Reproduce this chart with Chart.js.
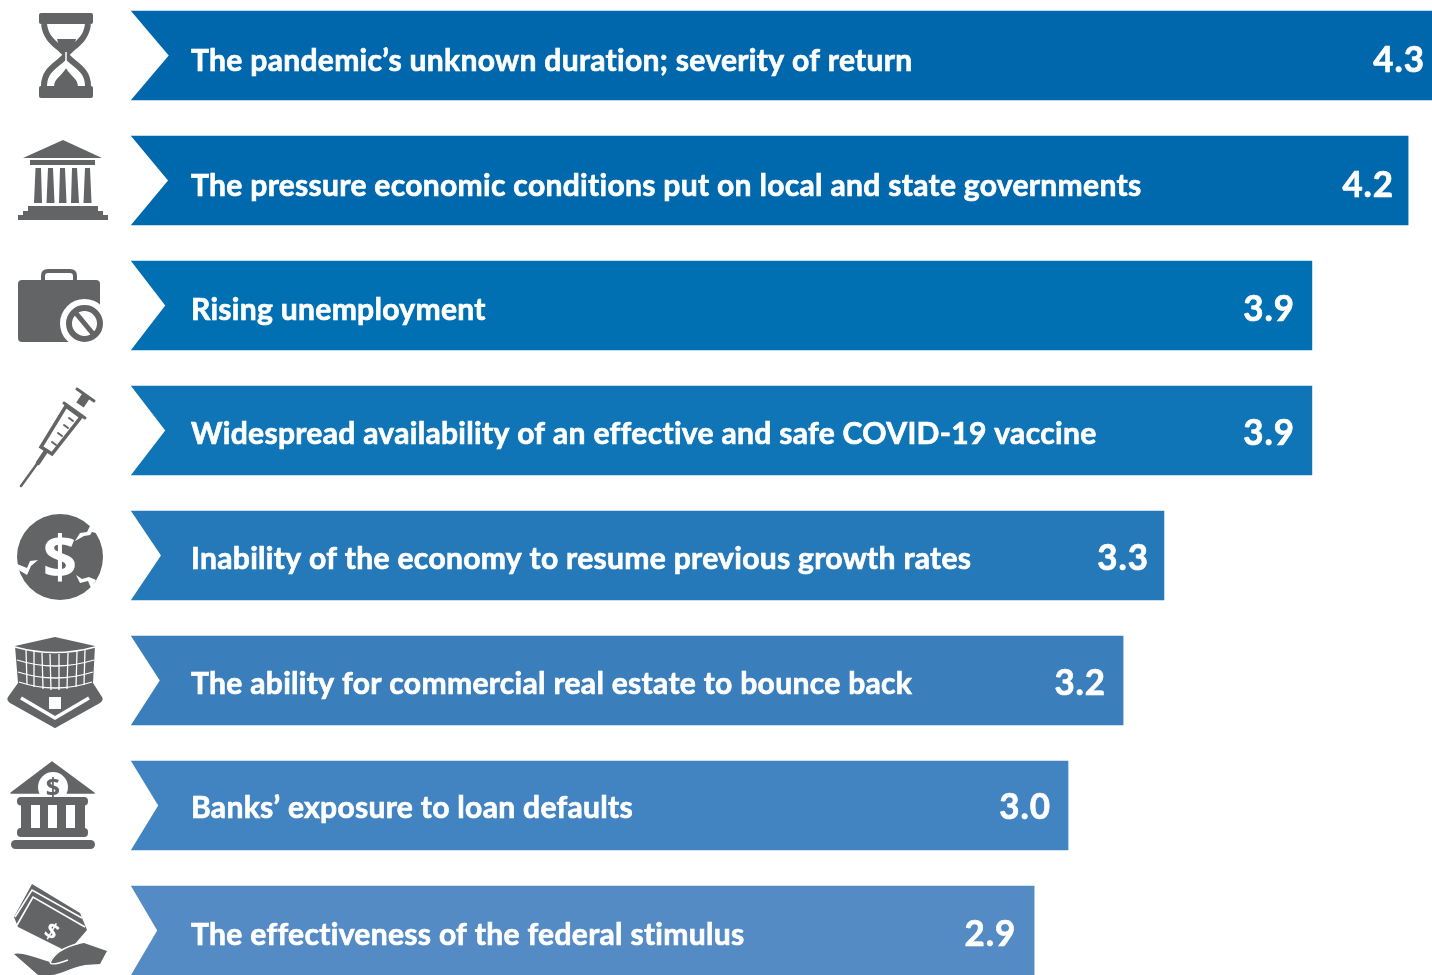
<!DOCTYPE html>
<html>
<head>
<meta charset="utf-8">
<title>Chart</title>
<script src="https://cdn.jsdelivr.net/npm/chart.js@4"></script>
<style>
  html, body { margin: 0; padding: 0; background: #fff; overflow: hidden; width: 1432px; height: 975px; }
  #wrap { position: absolute; left: 0; top: -7px; width: 1432px; height: 1000px; }
  #icons { position: absolute; left: 0; top: 0; width: 1432px; height: 975px; }
</style>
</head>
<body>
<div id="wrap"><canvas id="myChart" width="1432" height="1000"></canvas></div>

<!-- left hand icons, all in page pixels -->
<svg id="icons" viewBox="0 0 1432 975" xmlns="http://www.w3.org/2000/svg">
  <g fill="#636466" stroke="none">
    <!-- hourglass -->
    <rect x="39" y="13" width="54" height="11" rx="2"/>
    <rect x="39" y="86" width="54" height="12" rx="2"/>
    <path d="M44,24 C46,42 60,46 66,55 C72,64 88,68 88,86 M88,24 C86,42 72,46 66,55 C60,64 44,68 44,86" fill="none" stroke="#636466" stroke-width="6"/>
    <path d="M57,39 L76,39 L74,46 L67,53 L66,53 L59,46 Z"/>
    <path d="M66,68 C62,76 54,78 54,87 L78,87 C78,78 70,76 66,68 Z"/>
    <path d="M66,52 L66,69" stroke="#fff" stroke-width="1.5"/>

    <!-- government building -->
    <path d="M63,140 L102,158 L23,158 Z"/>
    <rect x="30" y="160" width="65" height="5"/>
    <path d="M35.5,168 L41,168 L42,203 L34,203 Z"/>
    <path d="M48,168 L53,168 L54.500,203 L46.500,203 Z"/>
    <path d="M60,168 L65,168 L66.500,203 L59,203 Z"/>
    <path d="M72,168 L77,168 L79,203 L71,203 Z"/>
    <path d="M85,168 L90,168 L91.500,203 L83.500,203 Z"/>
    <rect x="28" y="206" width="70" height="5"/>
    <rect x="23" y="211" width="80" height="4"/>
    <rect x="18" y="215" width="90" height="5"/>

    <!-- briefcase -->
    <rect x="18" y="280" width="82" height="62" rx="4"/>
    <path d="M43,281 L43,276 Q43,271 48,271 L70,271 Q75,271 75,276 L75,281" fill="none" stroke="#636466" stroke-width="4"/>
    <circle cx="84.500" cy="323.500" r="24.500" fill="#fff"/>
    <circle cx="84.500" cy="323.500" r="15.500" fill="#fff" stroke="#636466" stroke-width="6"/>
    <path d="M75,312 L94,335" stroke="#636466" stroke-width="5"/>

    <!-- syringe -->
    <g fill="none" stroke="#636466" stroke-linecap="round">
      <path d="M21,486 L42,457" stroke-width="2.500"/>
      <path d="M38,463 L46,451" stroke-width="4.500"/>
      <path d="M41,447 L52,454 L81,417 L66,406 Z" stroke-width="3.500"/>
      <path d="M64,403 L85,418" stroke-width="3"/>
      <path d="M80,405 L86,396" stroke-width="9" stroke-linecap="butt"/>
      <path d="M77,389 L94,401" stroke-width="3"/>
      <path d="M52,442 L56,445 M58,433 L62,436 M64,425 L68,428 M69,418 L73,421" stroke-width="2"/>
    </g>

    <!-- cracked dollar -->
    <circle cx="60" cy="557" r="43"/>
    <path d="M75,541 L80,533 L87,532 L90,526 L95,524 L104,535 L92,532 L90,535 L84,536 Z" fill="#fff"/>
    <path d="M17,569 L27,575 L31,566 L38,560 L30,561 L27,568 L17,564 Z" fill="#fff"/>
    <path d="M76,575 L80,583 L88,581 L91,588 L96,580 L89,577 L82,579 Z" fill="#fff"/>
    <text x="60" y="578" text-anchor="middle" font-family="Noto Sans" font-weight="700" font-size="60" fill="#fff">$</text>

    <!-- office block -->
    <path d="M15,646 L55,637 L95,646 L93,683 L102,697 Q104,700 100,703 L57,727 Q55,729 53,727 L10,703 Q6,700 8,697 L18,683 Z"/>
    <g fill="none" stroke="#fff" stroke-width="1.300">
      <path d="M15,647 Q55,658 95,647"/>
      <path d="M17,660 Q55,672 94,660"/>
      <path d="M18,672 Q55,684 93,672"/>
      <path d="M19,682 Q55,694 92,682"/>
      <path d="M26,649 L27,684 M34,651 L34,687 M42,653 L43,689 M50,654 L51,690 M59,654 L59,690 M68,653 L67,689 M77,651 L76,687 M85,649 L84,685"/>
    </g>
    <path d="M21,698 L55,718 L89,698" fill="none" stroke="#fff" stroke-width="3.500"/>
    <rect x="49" y="697" width="12" height="12" fill="#fff"/>

    <!-- bank -->
    <path d="M52,762 L94,793 L11,793 Z" stroke="#636466" stroke-width="1.500" stroke-linejoin="round"/>
    <circle cx="53" cy="787" r="15" fill="#fff"/>
    <text x="53" y="796" text-anchor="middle" font-family="Noto Sans" font-weight="700" font-size="25" fill="#636466">$</text>
    <rect x="17" y="797" width="71" height="8.500" rx="4"/>
    <rect x="21" y="805" width="64" height="24"/>
    <rect x="31" y="805" width="9" height="24" fill="#fff"/>
    <rect x="48" y="805" width="9" height="24" fill="#fff"/>
    <rect x="66" y="805" width="9" height="24" fill="#fff"/>
    <rect x="17" y="828" width="71" height="9" rx="4"/>
    <rect x="11" y="840" width="84" height="9" rx="4.500"/>

    <!-- money in hand -->
    <path d="M32,884 L80,913 L87,930 L68,952 L18,927 L14,917 Z"/>
    <path d="M15,917 L32,890 L82,918 M17,925 L33,897 L85,927" fill="none" stroke="#fff" stroke-width="1.600"/>
    <text transform="translate(52,931) rotate(30)" text-anchor="middle" font-family="Noto Sans" font-weight="700" font-size="22" fill="#fff" y="8">$</text>
    <path d="M14,954 C18,952 30,955 50,962 C55,950 70,945 84,943 L107,951 L100,964 L85,965 C70,968 58,975 52,975 L38,975 Z"/>
    <path d="M50,963 C52,965 60,963 68,960 M50,963 C54,952 68,946 80,943" fill="none" stroke="#fff" stroke-width="1.500"/>
  </g>
</svg>

<script>
var categories = [
  "The pandemic’s unknown duration; severity of return",
  "The pressure economic conditions put on local and state governments",
  "Rising unemployment",
  "Widespread availability of an effective and safe COVID-19 vaccine",
  "Inability of the economy to resume previous growth rates",
  "The ability for commercial real estate to bounce back",
  "Banks’ exposure to loan defaults",
  "The effectiveness of the federal stimulus"
];
// printed numbers
var valueLabels = ["4.3", "4.2", "3.9", "3.9", "3.3", "3.2", "3.0", "2.9"];
// bar lengths as drawn, they do not quite follow the rounded numbers
var barLengths = [4.3, 4.221, 3.903, 3.903, 3.414, 3.279, 3.097, 2.985];
var barColors = ["#0067ac", "#0068ad", "#0070b2", "#0f75b7", "#2679b9", "#3a7ebc", "#4284c1", "#548bc4"];
var labelInsets = [7, 14, 17, 17, 15, 17, 17, 18];
var textOffsets = [5, 5, 4, 3, 3, 3, 2, 4];

var NOTCH_RATIO = 0.029;
var TEXT_X = 191;

function drawText(ctx, str, x, y, size, stretch, spacing, align) {
  ctx.save();
  ctx.font = "700 " + size + "px Lato";
  ctx.letterSpacing = spacing + "px";
  ctx.textAlign = "left";
  ctx.textBaseline = "middle";
  ctx.fillStyle = "#fff";
  ctx.strokeStyle = "#fff";
  ctx.lineWidth = 0.7;
  var w = ctx.measureText(str).width * stretch;
  ctx.translate(align === "right" ? x - w : x, y);
  ctx.scale(stretch, 1);
  ctx.fillText(str, 0, 0);
  ctx.strokeText(str, 0, 0);
  ctx.restore();
}

var barDecor = {
  id: "barDecor",
  afterDatasetsDraw: function (chart) {
    var ctx = chart.ctx;
    var bars = chart.getDatasetMeta(0).data;
    bars.forEach(function (bar, i) {
      var top = bar.y - bar.height / 2;
      var bottom = bar.y + bar.height / 2;
      var depth = (bar.x - bar.base) * NOTCH_RATIO;
      // arrow shaped cut on the left end
      ctx.save();
      ctx.fillStyle = "#fff";
      ctx.beginPath();
      ctx.moveTo(bar.base - 1, top - 1);
      ctx.lineTo(bar.base, top);
      ctx.lineTo(bar.base + depth, bar.y);
      ctx.lineTo(bar.base, bottom);
      ctx.lineTo(bar.base - 1, bottom + 1);
      ctx.closePath();
      ctx.fill();
      ctx.restore();

      drawText(ctx, categories[i], TEXT_X, bar.y + textOffsets[i], 31, 0.97, 0.3, "left");
      drawText(ctx, valueLabels[i], bar.x - labelInsets[i], bar.y + textOffsets[i], 36, 0.97, 1, "right");
    });
  }
};

var chart = new Chart(document.getElementById("myChart").getContext("2d"), {
  type: "bar",
  plugins: [barDecor],
  data: {
    labels: categories,
    datasets: [
      {
        data: barLengths,
        backgroundColor: barColors,
        borderWidth: 0,
        barThickness: 89
      }
    ]
  },
  options: {
    indexAxis: "y",
    responsive: false,
    animation: false,
    layout: { padding: { left: 131, right: 0, top: 0, bottom: 0 } },
    plugins: { legend: { display: false }, tooltip: { enabled: false } },
    scales: {
      x: { display: false, min: 0, max: 4.3 },
      y: { display: false }
    }
  }
});
</script>
</body>
</html>
